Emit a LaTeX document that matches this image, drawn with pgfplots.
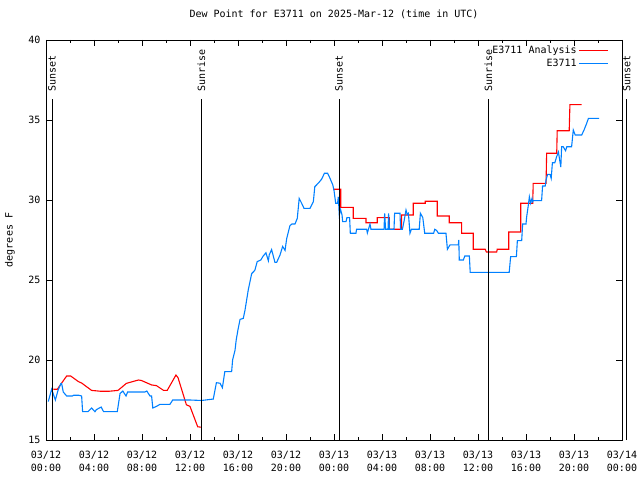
\documentclass[border=0pt]{standalone}
\usepackage{fontspec}
\setmainfont{DejaVu Sans Mono}
\usepackage{pgfplots}
\pgfplotsset{compat=1.18}
\definecolor{myblue}{RGB}{0,128,255}
\begin{document}
\fontsize{10}{12}\selectfont
\begin{tikzpicture}
\path[use as bounding box] (-46pt,-40pt) rectangle (594pt,440pt);
\begin{axis}[
  at={(0,0)}, anchor=south west,
  scale only axis, width=576pt, height=400pt,
  xmin=0, xmax=48, ymin=15, ymax=40,
  clip=false,
  /pgf/number format/assume math mode=true,
  xtick={0,4,...,48}, minor x tick num=1,
  xticklabels={{03/12\\[1pt]00:00},{03/12\\[1pt]04:00},{03/12\\[1pt]08:00},{03/12\\[1pt]12:00},{03/12\\[1pt]16:00},{03/12\\[1pt]20:00},{03/13\\[1pt]00:00},{03/13\\[1pt]04:00},{03/13\\[1pt]08:00},{03/13\\[1pt]12:00},{03/13\\[1pt]16:00},{03/13\\[1pt]20:00},{03/14\\[1pt]00:00}},
  xticklabel style={align=center, font=\fontsize{10}{12}\selectfont, yshift=-8pt},
  ytick={15,20,...,40},
  yticklabel style={xshift=-2pt},
  tick align=inside, major tick length=6pt, minor tick length=3pt,
  tick style={black, line width=0.6pt},
  axis line style={line width=0.8pt},
  title={Dew Point for E3711 on 2025-Mar-12 (time in UTC)},
  title style={at={(0.5,1)}, anchor=center, yshift=20pt},
  ylabel={degrees F},
  ylabel style={at={(axis description cs:-0.0625,0.5)}, anchor=center},
  legend style={draw=none, fill=none, at={(1,1)}, anchor=north east, xshift=-10pt, yshift=-2pt, row sep=0pt, font=\fontsize{10}{12}\selectfont},
  legend plot pos=right, legend cell align=right,
  legend image code/.code={\draw[#1] (0pt,0pt) -- (29pt,0pt);},
]
\addplot[red, line width=1.1pt] coordinates {
(0.61,18.17) (0.94,18.17) (1.72,19.0) (2.06,19.0) (2.7,18.65) (2.97,18.56) (3.8,18.1) (4.5,18.05) (5.3,18.05) (6.0,18.1) (6.7,18.54) (7.7,18.75) (7.95,18.72) (8.8,18.44) (9.2,18.4) (9.8,18.1) (10.1,18.1) (10.83,19.06) (11.0,18.9) (11.7,17.2) (12.0,17.1) (12.64,15.83) (12.9,15.8)
};
\addlegendentry{E3711 Analysis}
\addplot[red, line width=1.1pt, forget plot] coordinates {
(23.94,30.67) (24.56,30.67) (24.56,29.54) (25.6,29.54) (25.6,28.85) (26.67,28.85) (26.67,28.58) (27.6,28.58) (27.6,28.9) (28.6,28.9) (28.6,28.17) (29.64,28.17) (29.64,29.06) (30.6,29.06) (30.6,29.8) (31.6,29.8) (31.6,29.92) (32.6,29.92) (32.6,29.0) (33.6,29.0) (33.6,28.58) (34.64,28.58) (34.64,27.92) (35.6,27.92) (35.6,26.92) (36.6,26.92) (36.7,26.75) (37.56,26.75) (37.6,26.92) (38.56,26.92) (38.56,28.0) (39.56,28.0) (39.56,29.8) (40.56,29.8) (40.6,31.04) (41.67,31.04) (41.72,32.92) (42.56,32.92) (42.6,34.33) (43.6,34.33) (43.66,35.96) (44.64,35.96)
};
\addplot[myblue, line width=1.1pt] coordinates {
(0.19,17.4) (0.47,18.17) (0.78,17.5) (1.0,18.1) (1.25,18.54) (1.3,18.54) (1.44,18.0) (1.72,17.75) (2.2,17.75) (2.3,17.8) (2.7,17.8) (2.97,17.75) (3.05,16.77) (3.5,16.77) (3.8,17.0) (4.08,16.77) (4.2,16.9) (4.6,17.06) (4.8,16.77) (5.94,16.77) (6.17,17.9) (6.4,18.06) (6.67,17.75) (6.8,18.0) (8.25,18.0) (8.4,18.06) (8.67,17.75) (8.8,17.75) (8.9,17.0) (9.2,17.1) (9.5,17.23) (10.33,17.23) (10.56,17.5) (12.0,17.5) (12.96,17.47) (13.94,17.56) (14.2,18.58) (14.5,18.55) (14.7,18.27) (14.9,19.27) (15.47,19.27) (15.55,20.0) (15.75,20.6) (15.85,21.25) (16.0,21.9) (16.17,22.54) (16.44,22.6) (16.58,23.1) (16.86,24.4) (17.14,25.4) (17.4,25.6) (17.6,26.15) (17.9,26.25) (18.1,26.5) (18.33,26.7) (18.53,26.2) (18.6,26.56) (18.8,26.9) (19.08,26.1) (19.22,26.1) (19.5,26.56) (19.72,27.1) (19.92,26.85) (20.06,27.6) (20.33,28.4) (20.5,28.5) (20.75,28.5) (20.94,28.85) (21.1,30.1) (21.3,29.8) (21.5,29.48) (22.0,29.48) (22.28,29.9) (22.4,30.83) (22.7,31.06) (22.97,31.3) (23.2,31.67) (23.47,31.67) (23.67,31.35) (23.9,30.94) (24.0,30.6) (24.14,29.8) (24.3,29.8) (24.36,30.2) (24.44,29.06) (24.55,29.4) (24.67,29.06) (24.72,28.65) (25.0,28.65) (25.08,28.9) (25.3,28.9) (25.36,27.92) (25.83,27.92) (25.88,28.17) (26.72,28.17) (26.78,27.94) (27.0,28.5) (27.08,28.17) (28.17,28.17) (28.22,29.17) (28.3,28.17) (28.5,28.17) (28.55,29.17) (28.62,28.17) (29.0,28.17) (29.05,29.17) (29.5,29.17) (29.55,28.17) (29.7,28.17) (29.83,28.65) (30.0,29.375) (30.1,29.1) (30.2,29.17) (30.33,27.92) (30.45,28.17) (31.1,28.17) (31.2,29.17) (31.4,28.9) (31.56,27.92) (32.3,27.92) (32.4,28.17) (32.55,28.1) (32.7,27.92) (33.33,27.92) (33.45,26.92) (33.67,27.2) (34.36,27.2) (34.4,27.5) (34.44,26.25) (34.78,26.25) (34.9,26.5) (35.28,26.5) (35.35,25.48) (38.6,25.48) (38.72,26.46) (39.2,26.46) (39.28,27.46) (39.64,27.46) (39.72,28.5) (40.0,28.5) (40.05,28.92) (40.14,29.4) (40.2,29.7) (40.28,30.2) (40.39,29.8) (40.5,30.1) (40.55,29.9) (40.6,29.96) (41.3,29.96) (41.38,30.875) (41.6,30.875) (41.67,31.25) (41.8,31.6) (42.0,31.6) (42.1,31.35) (42.2,32.33) (42.4,32.33) (42.55,32.7) (42.7,33.0) (42.9,32.06) (42.97,33.33) (43.1,33.33) (43.3,33.08) (43.4,33.33) (43.8,33.33) (43.94,34.375) (44.1,34.06) (44.64,34.06) (44.85,34.4) (45.06,34.8) (45.2,35.1) (46.1,35.1)
};
\addlegendentry{E3711}
\addplot[black, line width=0.8pt, forget plot] coordinates {(0.5,15) (0.5,36.3)};
\addplot[black, line width=0.8pt, forget plot] coordinates {(12.96,15) (12.96,36.3)};
\addplot[black, line width=0.8pt, forget plot] coordinates {(24.42,15) (24.42,36.3)};
\addplot[black, line width=0.8pt, forget plot] coordinates {(36.87,15) (36.87,36.3)};
\addplot[black, line width=0.8pt, forget plot] coordinates {(48.39,15) (48.39,36.3)};
\node[rotate=90, anchor=west, inner sep=0pt] at (axis cs:0.5,36.75) {Sunset};
\node[rotate=90, anchor=west, inner sep=0pt] at (axis cs:12.96,36.75) {Sunrise};
\node[rotate=90, anchor=west, inner sep=0pt] at (axis cs:24.42,36.75) {Sunset};
\node[rotate=90, anchor=west, inner sep=0pt] at (axis cs:36.87,36.75) {Sunrise};
\node[rotate=90, anchor=west, inner sep=0pt] at (axis cs:48.39,36.75) {Sunset};
\end{axis}
\end{tikzpicture}
\end{document}
